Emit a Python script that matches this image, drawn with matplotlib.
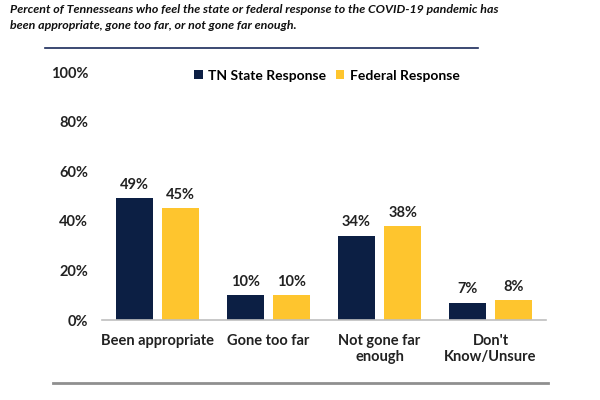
import matplotlib
matplotlib.use("Agg")
import matplotlib.pyplot as plt
import numpy as np

categories = ["Been appropriate", "Gone too far", "Not gone far\nenough", "Don't\nKnow/Unsure"]
state = [49, 10, 34, 7]
federal = [45, 10, 38, 8]
series_names = ["TN State Response", "Federal Response"]
yticks = [0, 20, 40, 60, 80, 100]

navy = "#0c1f44"
gold = "#fec52e"

plt.rcParams['font.family'] = ['Lato', 'DejaVu Sans']

fig = plt.figure(figsize=(6, 4), dpi=100)
ax = fig.add_axes([0.17, 0.2, 0.74, 0.62])

x = np.arange(len(categories))
w = 0.33
off = 0.21
b1 = ax.bar(x - off, state, w, color=navy, label=series_names[0])
b2 = ax.bar(x + off, federal, w, color=gold, label=series_names[1])

# percentage labels above each bar
for bars in (b1, b2):
    for r in bars:
        ax.text(r.get_x() + r.get_width() / 2, r.get_height() + 2.5,
                f"{r.get_height():.0f}%", ha="center", va="bottom",
                fontsize=10.5, fontweight="bold", color="#222222")

ax.set_xlim(-0.5, 3.5)
ax.set_ylim(0, 100)
ax.set_yticks(yticks)
ax.set_yticklabels([f"{t}%" for t in yticks], fontsize=10.5, fontweight="bold", color="#222222")
ax.set_xticks(x)
ax.set_xticklabels(categories, fontsize=10.5, fontweight="bold", color="#222222", linespacing=1.15)
ax.tick_params(length=0, pad=10)
ax.tick_params(axis="y", pad=10)
for s in ["top", "right", "left"]:
    ax.spines[s].set_visible(False)
ax.spines["bottom"].set_color("#bfbfbf")
ax.spines["bottom"].set_linewidth(1.2)

ax.legend(loc="upper left", bbox_to_anchor=(0.18, 1.06), ncol=2, frameon=False,
          handlelength=0.6, handleheight=0.6, handletextpad=0.4, columnspacing=0.7,
          prop={"weight": "bold", "size": 10})

fig.text(0.017, 0.99, "Percent of Tennesseans who feel the state or federal response to the COVID-19 pandemic has\nbeen appropriate, gone too far, or not gone far enough.",
         ha="left", va="top", fontsize=8.9, fontweight="bold", style="italic", color="#111111", linespacing=1.6)

fig.add_artist(plt.Line2D([0.075, 0.797], [0.88, 0.88], color="#1a2a5a", lw=1.2))
fig.add_artist(plt.Line2D([0.088, 0.913], [0.043, 0.043], color="#8f8f8f", lw=2))

fig.savefig("out.png", dpi=100)
